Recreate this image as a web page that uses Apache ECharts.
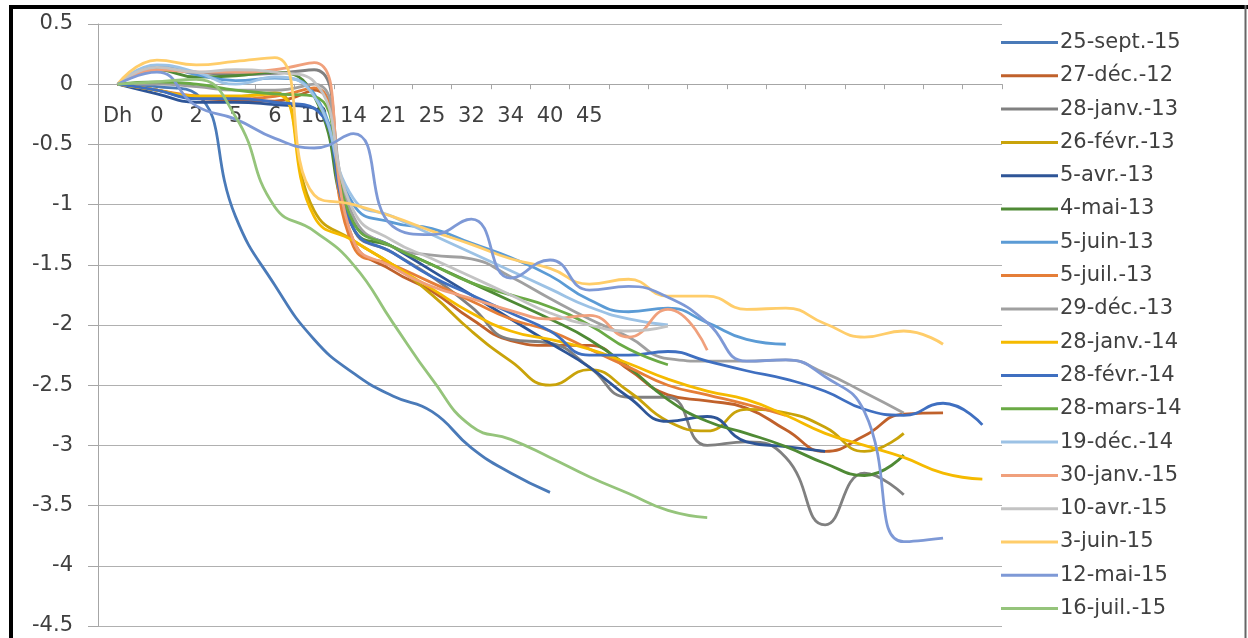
<!DOCTYPE html>
<html>
<head>
<meta charset="utf-8">
<script src="https://cdn.jsdelivr.net/npm/echarts@6/dist/echarts.min.js"></script>
<style>
html,body{margin:0;padding:0;background:#fff;}
#chart{width:1248px;height:638px;}
</style>
</head>
<body>
<div id="chart"></div>
<script>
// category tick labels (23 categories, only first 13 labelled)
const categories = ['Dh','0','2','5','6','10','14','21','25','32','34','40','45','','','','','','','','','',''];
const yTicks = { min: -4.5, max: 0.5, step: 0.5 };

const names = ['25-sept.-15','27-déc.-12','28-janv.-13','26-févr.-13','5-avr.-13','4-mai-13','5-juin-13','5-juil.-13','29-déc.-13','28-janv.-14','28-févr.-14','28-mars-14','19-déc.-14','30-janv.-15','10-avr.-15','3-juin-15','12-mai-15','16-juil.-15'];

const s25sept15 = [0,-0.02,-0.08,-1.1,-1.67,-2.12,-2.4,-2.59,-2.72,-3.02,-3.23,-3.39];
const s27dec12  = [0,-0.05,-0.12,-0.13,-0.14,-0.05,-1.3,-1.55,-1.72,-1.95,-2.13,-2.17,-2.17,-2.37,-2.58,-2.63,-2.69,-2.87,-3.05,-2.92,-2.74,-2.73];
const s28janv13 = [0,0.13,0.1,0.08,0.09,0.12,-1.2,-1.4,-1.6,-1.85,-2.12,-2.15,-2.35,-2.6,-2.6,-3.0,-2.97,-3.1,-3.66,-3.23,-3.41];
const s26fevr13 = [0,-0.05,-0.1,-0.1,-0.07,-1.05,-1.3,-1.5,-1.75,-2.05,-2.3,-2.5,-2.37,-2.55,-2.8,-2.88,-2.7,-2.73,-2.85,-3.05,-2.9];
const s5avr13   = [0,-0.08,-0.15,-0.15,-0.17,-0.2,-1.15,-1.35,-1.55,-1.75,-1.95,-2.15,-2.35,-2.6,-2.8,-2.76,-2.97,-3.01,-3.05];
const s4mai13   = [0,0.12,0.06,0.07,0.1,-0.1,-1.2,-1.35,-1.5,-1.65,-1.8,-1.95,-2.12,-2.35,-2.62,-2.8,-2.9,-3.01,-3.15,-3.25,-3.08];
const s5juin13  = [0,0.15,0.08,0.03,0.05,-0.08,-1.0,-1.15,-1.2,-1.32,-1.44,-1.59,-1.79,-1.89,-1.86,-1.98,-2.12,-2.16];
const s5juil13  = [0,-0.05,-0.1,-0.12,-0.1,-0.03,-1.35,-1.5,-1.65,-1.8,-1.95,-2.05,-2.2,-2.35,-2.5,-2.58,-2.66,-2.75];
const s29dec13  = [0,0.0,-0.02,-0.05,-0.05,0.0,-1.1,-1.35,-1.42,-1.45,-1.6,-1.78,-1.95,-2.1,-2.28,-2.3,-2.3,-2.29,-2.4,-2.56,-2.73];
const s28janv14 = [0,-0.05,-0.1,-0.1,-0.08,-1.1,-1.3,-1.5,-1.7,-1.9,-2.05,-2.12,-2.2,-2.32,-2.45,-2.55,-2.62,-2.75,-2.9,-3.0,-3.1,-3.23,-3.28];
const s28fevr14 = [0,-0.05,-0.12,-0.12,-0.15,-0.2,-1.2,-1.4,-1.6,-1.75,-1.9,-2.05,-2.25,-2.25,-2.22,-2.3,-2.38,-2.45,-2.55,-2.7,-2.75,-2.65,-2.83];
const s28mars14 = [0,0.02,0.0,-0.05,-0.08,-0.1,-1.15,-1.35,-1.5,-1.65,-1.75,-1.85,-2.0,-2.2,-2.33];
const s19dec14  = [0,0.16,0.1,0.0,0.06,-0.1,-0.95,-1.1,-1.25,-1.4,-1.55,-1.7,-1.85,-1.95,-2.0];
const s30janv15 = [0,0.12,0.1,0.1,0.12,0.18,-1.3,-1.52,-1.68,-1.78,-1.88,-1.95,-1.92,-2.1,-1.87,-2.21];
const s10avr15  = [0,0.14,0.1,0.12,0.1,0.02,-1.05,-1.3,-1.45,-1.6,-1.75,-1.9,-2.0,-2.05,-2.01];
const s3juin15  = [0,0.2,0.16,0.19,0.22,-0.92,-1.0,-1.1,-1.22,-1.33,-1.45,-1.53,-1.66,-1.62,-1.76,-1.76,-1.87,-1.86,-1.99,-2.1,-2.05,-2.16];
const s12mai15  = [0,0.1,-0.18,-0.29,-0.45,-0.53,-0.41,-1.18,-1.25,-1.12,-1.61,-1.46,-1.71,-1.68,-1.77,-1.98,-2.3,-2.29,-2.43,-2.72,-3.8,-3.77];
const s16juil15 = [0,0.02,0.04,-0.27,-1.02,-1.22,-1.5,-1.98,-2.45,-2.84,-2.95,-3.1,-3.26,-3.4,-3.54,-3.6];

const seriesValues = [s25sept15,s27dec12,s28janv13,s26fevr13,s5avr13,s4mai13,s5juin13,s5juil13,s29dec13,s28janv14,s28fevr14,s28mars14,s19dec14,s30janv15,s10avr15,s3juin15,s12mai15,s16juil15];
const colors = ['#4A7AB8','#C0612B','#808080','#C9A30A','#2E5597','#4F8A35','#5B9BD5','#E57E38','#A0A0A0','#F5BA00','#3F6FC0','#6AAA45','#9CC2E5','#F0A07C','#C3C3C3','#FFCD6A','#7E99D6','#95C47B'];

const FONT = 'DejaVu Sans';
const GRID = { left: 98, right: 246, top: 24, bottom: 12 };
const plotH = 638 - GRID.top - GRID.bottom;
// place the category axis on the value 0 (as the axis crosses at 0)
const zeroOffset = -plotH * (0 - yTicks.min) / (yTicks.max - yTicks.min);

const chart = echarts.init(document.getElementById('chart'), null, {renderer:'canvas'});
chart.setOption({
  animation: false,
  backgroundColor: '#ffffff',
  grid: Object.assign({ containLabel: false, outerBoundsMode: 'none' }, GRID),
  xAxis: {
    type: 'category',
    data: categories,
    boundaryGap: true,
    offset: zeroOffset,
    axisLine: { onZero: false, lineStyle: { color: '#A6A6A6', width: 1 } },
    axisTick: { show: true, length: 5, interval: 0, lineStyle: { color: '#A6A6A6' } },
    axisLabel: { interval: 0, margin: 22, fontFamily: FONT, fontSize: 21, color: '#404040' },
    splitLine: { show: false }
  },
  yAxis: {
    type: 'value',
    min: yTicks.min, max: yTicks.max, interval: yTicks.step,
    axisLine: { show: true, lineStyle: { color: '#A6A6A6', width: 1 } },
    axisTick: { show: true, length: 10, lineStyle: { color: '#A6A6A6' } },
    axisLabel: { margin: 25, fontFamily: FONT, fontSize: 21, color: '#404040' },
    splitLine: { show: true, lineStyle: { color: '#B0B0B0', width: 1 } }
  },
  legend: {
    orient: 'vertical',
    left: 1001, top: 32,
    padding: 0,
    icon: 'rect',
    itemWidth: 57, itemHeight: 3,
    itemGap: 12.3,
    textStyle: { fontFamily: FONT, fontSize: 21, color: '#404040', lineHeight: 21, padding: [0,0,0,-3] },
    data: names
  },
  graphic: [
    { type: 'line', shape: { x1: 9, y1: 7, x2: 1248, y2: 7 }, style: { stroke: '#000', lineWidth: 4 } },
    { type: 'line', shape: { x1: 11, y1: 5, x2: 11, y2: 638 }, style: { stroke: '#000', lineWidth: 4 } },
    { type: 'line', shape: { x1: 1245.5, y1: 5, x2: 1245.5, y2: 638 }, style: { stroke: '#666', lineWidth: 2 } }
  ],
  series: names.map((n, k) => ({
    name: n,
    type: 'line',
    data: seriesValues[k],
    smooth: 0.5,
    showSymbol: false,
    symbol: 'none',
    lineStyle: { color: colors[k], width: 2.8 },
    itemStyle: { color: colors[k] }
  }))
});
</script>
</body>
</html>
